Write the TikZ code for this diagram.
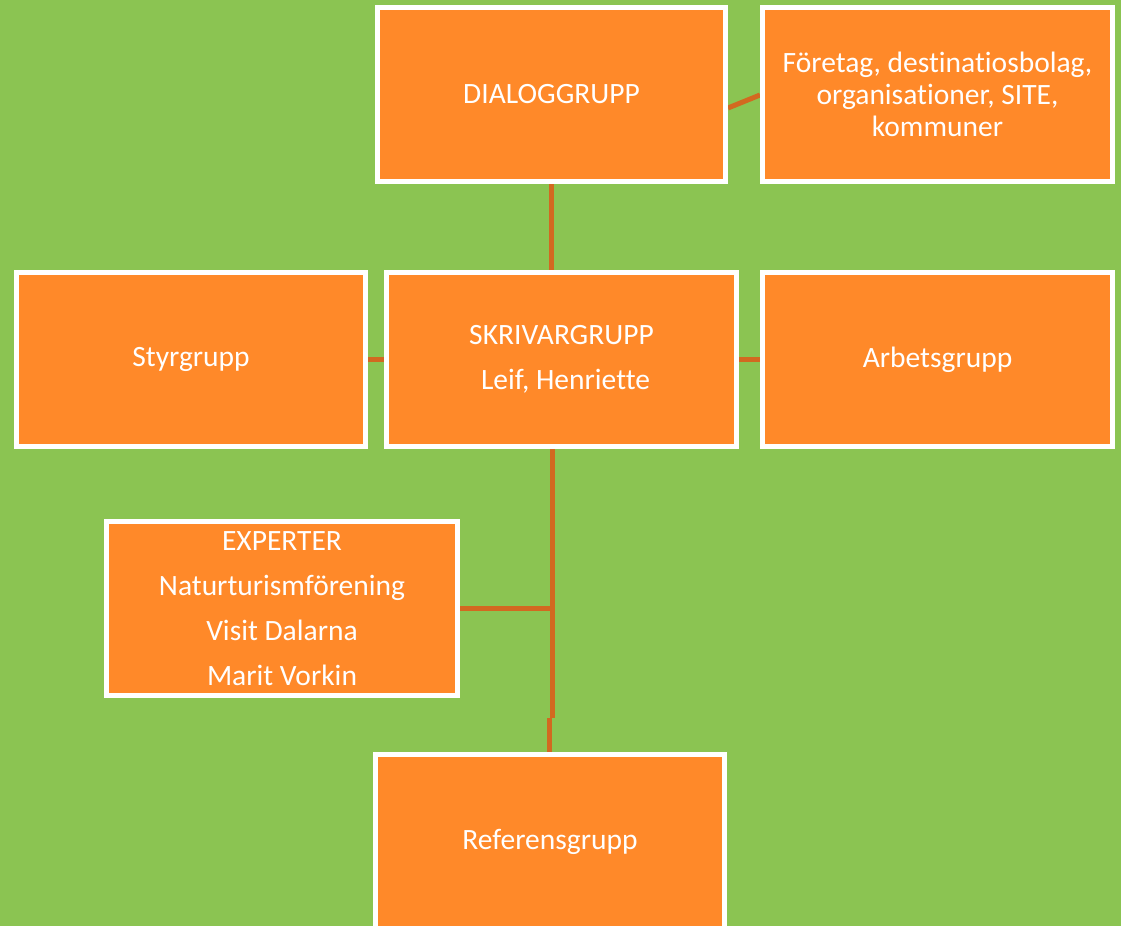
\documentclass[tikz,border=0pt]{standalone}
\usepackage{fontspec}
\setmainfont{Carlito}[Ligatures={NoCommon}]
\definecolor{bggreen}{RGB}{139,196,82}
\definecolor{boxorange}{RGB}{255,137,41}
\definecolor{linkorange}{RGB}{210,105,32}
\pgfdeclarelayer{bg}
\pgfdeclarelayer{lines}
\pgfsetlayers{bg,lines,main}
\begin{document}
\begin{tikzpicture}[x=1pt,y=-1pt,
  orgbox/.style={rectangle,draw=white,line width=5pt,fill=boxorange,
    text=white,align=center,inner sep=0pt,
    minimum width=#1,minimum height=174pt,
    font=\fontsize{29.5}{32}\selectfont},
  orgbox/.default=350pt,
  link/.style={draw=linkorange,line width=5pt}]
\begin{pgfonlayer}{bg}
\fill[bggreen] (0,0) rectangle (1121,926);
\end{pgfonlayer}
\useasboundingbox (0,0) rectangle (1121,926);
\coordinate (j1) at (552,718);
\coordinate (j2) at (549,718);
\coordinate (ex) at (552,608);
\node[orgbox=348pt] (dialog) at (551.5,94.5) {DIALOGGRUPP};
\node[orgbox] (foretag) at (937.5,94.5) {Företag, destinatiosbolag,\\organisationer, SITE,\\kommuner};
\node[orgbox=349pt] (styr) at (191,359.5) {Styrgrupp};
\node[orgbox, font=\fontsize{29.5}{45}\selectfont] (skriv) at (561.5,359.5) {SKRIVARGRUPP\\\hspace*{8pt}Leif, Henriette};
\node[orgbox] (arbets) at (937.5,359.5) {Arbetsgrupp};
\node[orgbox=351pt, font=\fontsize{29.5}{45}\selectfont] (exp) at (282,608.5) {EXPERTER\\Naturturismförening\\Visit Dalarna\\Marit Vorkin};
\node[orgbox=349pt] (ref) at (550,841.5) {Referensgrupp};
\begin{pgfonlayer}{lines}
\draw[link] (dialog.east |- 0,108) -- (foretag.west |- 0,95);
\draw[link] (dialog.south) -- (dialog.south |- skriv.north);
\draw[link] (styr.east) -- (skriv.west);
\draw[link] (skriv.east) -- (arbets.west);
\draw[link] (skriv.south -| j1) -- (j1);
\draw[link] (j2) -- (ref.north -| j2);
\draw[link] (exp.east |- ex) -- (ex);
\end{pgfonlayer}
\end{tikzpicture}
\end{document}
